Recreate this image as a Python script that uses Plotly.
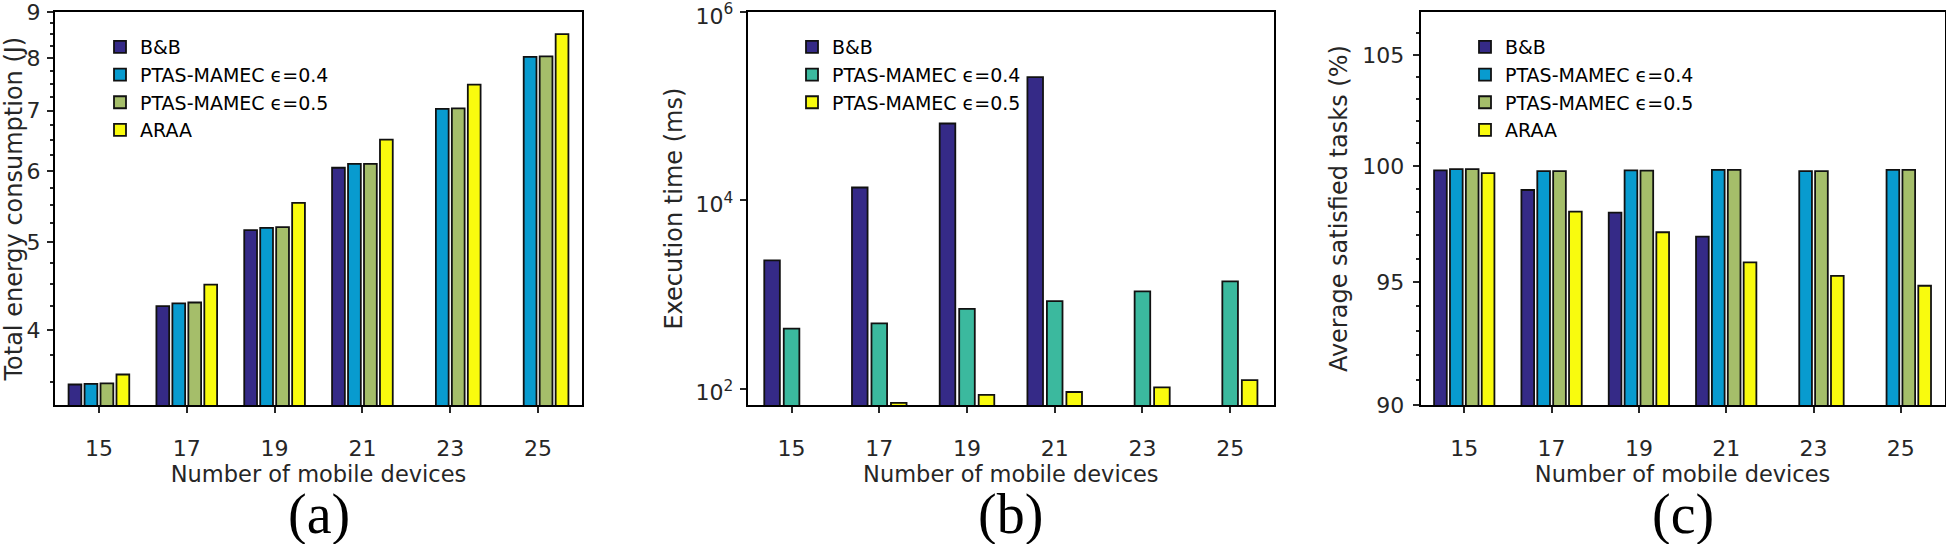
import plotly.graph_objects as go
import numpy as np

# ---------------- data ----------------
devices = [15, 17, 19, 21, 23, 25]
tick_labels = ["15", "17", "19", "21", "23", "25"]

# (a) Total energy consumption (J)
energy_bb = [3.48, 4.25, 5.16, 6.05, None, None]
energy_ptas04 = [3.485, 4.28, 5.19, 6.11, 7.03, 8.03]
energy_ptas05 = [3.49, 4.29, 5.20, 6.11, 7.04, 8.04]
energy_araa = [3.57, 4.49, 5.53, 6.50, 7.48, 8.51]

# (b) Execution time (ms)
time_bb = [2310, 13700, 65500, 204000, None, None]
time_ptas04 = [434, 493, 705, 853, 1081, 1381]
time_ptas05 = [58, 70.8, 85.9, 92.3, 103.5, 123.7]

# (c) Average satisfied tasks (%)
sat_bb = [99.80, 98.94, 97.96, 96.93, None, None]
sat_ptas04 = [99.85, 99.77, 99.80, 99.82, 99.77, 99.82]
sat_ptas05 = [99.85, 99.77, 99.79, 99.82, 99.77, 99.82]
sat_araa = [99.68, 98.00, 97.12, 95.84, 95.27, 94.86]

names4 = ["B&B", "PTAS-MAMEC ϵ=0.4", "PTAS-MAMEC ϵ=0.5", "ARAA"]
names3 = ["B&B", "PTAS-MAMEC ϵ=0.4", "PTAS-MAMEC ϵ=0.5"]

# ---------------- style ----------------
C_BB = "#352A87"
C_P04 = "#089BCF"
C_P05 = "#A5BE6A"
C_ARAA = "#F9FB0E"
C_P04_B = "#3BB99E"
C_P05_B = "#F9FB0E"

FONT = "DejaVu Sans"
TXT = "#262626"
W, H = 1946, 544

def px_x(p):
    return p / W

def px_y(p):
    return 1 - p / H

fig = go.Figure()

def add_group(series, names, colors, xa, ya, legend):
    n = len(series)
    group = min(0.8, n / (n + 1.5)) * 2.0  # group width in x units (spacing 2)
    slot = group / n
    width = 0.8 * slot
    for i, (vals, nm, col) in enumerate(zip(series, names, colors)):
        off = (i - (n - 1) / 2) * slot - width / 2
        fig.add_trace(go.Bar(
            x=devices, y=vals, name=nm, xaxis=xa, yaxis=ya,
            width=width, offset=off,
            marker=dict(color=col, line=dict(color="#111111", width=1.8)),
            legend=legend,
        ))

add_group([energy_bb, energy_ptas04, energy_ptas05, energy_araa], names4,
          [C_BB, C_P04, C_P05, C_ARAA], "x", "y", "legend")
add_group([time_bb, time_ptas04, time_ptas05], names3,
          [C_BB, C_P04_B, C_P05_B], "x2", "y2", "legend2")
add_group([sat_bb, sat_ptas04, sat_ptas05, sat_araa], names4,
          [C_BB, C_P04, C_P05, C_ARAA], "x3", "y3", "legend3")

axis_common = dict(
    showline=True, linecolor="black", linewidth=2, mirror=True,
    ticks="outside", ticklen=6, tickwidth=1.5, tickcolor=TXT,
    tickfont=dict(family=FONT, size=22, color=TXT),
    ticklabeloverflow="allow",
    showgrid=False, zeroline=False,
)

y_top, y_bot = 12, 405.3
ydom = [px_y(y_bot), px_y(y_top)]
panels_px = [(55, 582), (747.7, 1274), (1420.6, 1944.5)]

def xaxis_def(i):
    l, r = panels_px[i]
    d = dict(axis_common)
    d.update(domain=[px_x(l), px_x(r)], range=[14, 26],
             tickvals=devices, ticktext=tick_labels, ticklabelstandoff=16,
             title=dict(text="Number of mobile devices",
                        font=dict(family=FONT, size=22.5, color=TXT), standoff=0),
             anchor="y" if i == 0 else f"y{i+1}")
    return d

minor_a = [v for v in np.arange(3.5, 9.0, 0.25) if abs(v - round(v)) > 1e-9]
minor_c = [v for v in range(91, 107) if v % 5 != 0]

EPS = 1e-4
ya = dict(axis_common)
ya.update(domain=ydom, type="log", range=[np.log10(3.3), np.log10(9) + EPS],
          tickvals=[4, 5, 6, 7, 8, 9], ticklabelstandoff=2,
          minor=dict(tickvals=minor_a, ticks="outside", ticklen=3, tickcolor=TXT, showgrid=False),
          title=dict(text="Total energy consumption (J)",
                     font=dict(family=FONT, size=24, color=TXT), standoff=8),
          anchor="x")

yb = dict(axis_common)
yb.update(domain=ydom, type="log", range=[1.824, 6 + EPS],
          tickvals=[1e2, 1e4, 1e6],
          ticktext=["10<sup>2</sup>", "10<sup>4</sup>", "10<sup>6</sup>"],
          ticklabelstandoff=2, ticklabelshift=4,
          title=dict(text="Execution time (ms)",
                     font=dict(family=FONT, size=24, color=TXT), standoff=6),
          anchor="x2")

yc = dict(axis_common)
yc.update(domain=ydom, type="log", range=[np.log10(90), np.log10(107)],
          tickvals=[90, 95, 100, 105], ticklabelstandoff=4,
          minor=dict(tickvals=minor_c, ticks="outside", ticklen=3, tickcolor=TXT, showgrid=False),
          title=dict(text="Average satisfied tasks (%)",
                     font=dict(family=FONT, size=24, color=TXT), standoff=8),
          anchor="x3")

def legend_def(xpx):
    return dict(x=px_x(xpx), y=px_y(28), xanchor="left", yanchor="top",
                bgcolor="rgba(0,0,0,0)", borderwidth=0,
                font=dict(family=FONT, size=19, color="black"),
                itemwidth=30)

fig.update_layout(
    width=W, height=H, autosize=False,
    margin=dict(l=0, r=0, t=0, b=0),
    template="none",
    paper_bgcolor="white", plot_bgcolor="white",
    xaxis=xaxis_def(0), xaxis2=xaxis_def(1), xaxis3=xaxis_def(2),
    yaxis=ya, yaxis2=yb, yaxis3=yc,
    legend=legend_def(100), legend2=legend_def(792), legend3=legend_def(1465),
    showlegend=True,
)

for i, lab in enumerate(["(a)", "(b)", "(c)"]):
    l, r = panels_px[i]
    fig.add_annotation(text=lab, x=px_x((l + r) / 2), y=px_y(514),
                       xref="paper", yref="paper", showarrow=False,
                       xanchor="center", yanchor="middle",
                       font=dict(family="Liberation Serif", size=56, color="black"))

fig.write_html("out.html", config={"displayModeBar": False},
               post_script="document.body.style.margin='0px';document.body.style.overflow='hidden';")
